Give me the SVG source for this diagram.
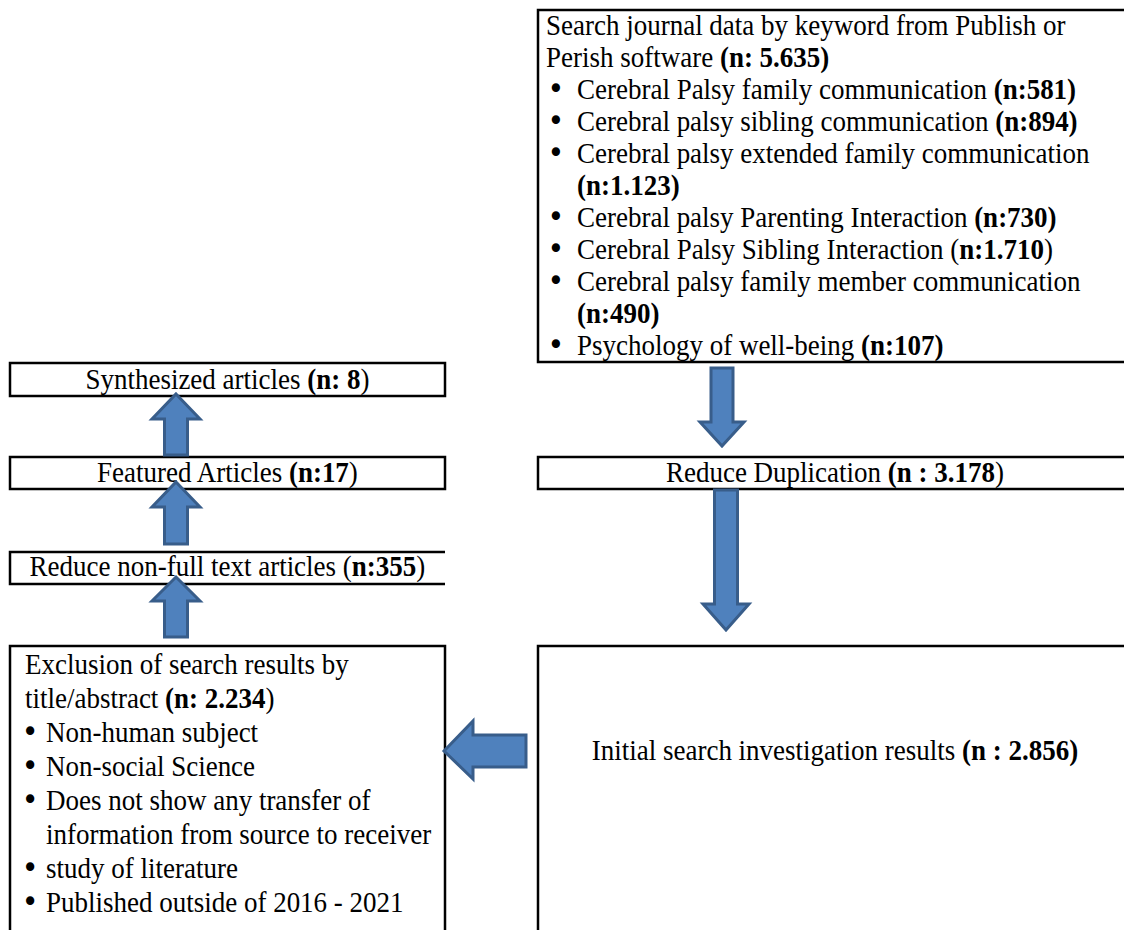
<svg xmlns="http://www.w3.org/2000/svg" width="1124" height="930" viewBox="0 0 1124 930">
<style>
.box{fill:none;stroke:#000;stroke-width:2.5}
.t{font-family:"Liberation Serif","Times New Roman",serif;font-size:28.5px;fill:#000}
.bu{font-family:"DejaVu Sans","Liberation Sans",sans-serif;font-size:30px;fill:#000;text-anchor:middle}
.m{text-anchor:middle}
.b{font-weight:bold}
.arr{fill:#4F81BD;stroke:#385D8A;stroke-width:3;stroke-linejoin:miter}
</style>
<rect width="1124" height="930" fill="#fff"/>
<g id="search">
<rect class="box" x="538" y="10" width="600" height="352"/>
<g transform="scale(0.947,1)">
<text class="t" x="576.6" y="35">Search journal data by keyword from Publish or</text>
<text class="t" x="576.6" y="67">Perish software <tspan class="b">(n: 5.635)</tspan></text>
<text class="bu" x="587.1" y="99">•</text>
<text class="t" x="609.3" y="99">Cerebral Palsy family communication <tspan class="b">(n:581)</tspan></text>
<text class="bu" x="587.1" y="131">•</text>
<text class="t" x="609.3" y="131">Cerebral palsy sibling communication <tspan class="b">(n:894)</tspan></text>
<text class="bu" x="587.1" y="163">•</text>
<text class="t" x="609.3" y="163">Cerebral palsy extended family communication</text>
<text class="t b" x="609.3" y="195">(n:1.123)</text>
<text class="bu" x="587.1" y="227">•</text>
<text class="t" x="609.3" y="227">Cerebral palsy Parenting Interaction <tspan class="b">(n:730)</tspan></text>
<text class="bu" x="587.1" y="259">•</text>
<text class="t" x="609.3" y="259">Cerebral Palsy Sibling Interaction (<tspan class="b">n:1.710</tspan>)</text>
<text class="bu" x="587.1" y="291">•</text>
<text class="t" x="609.3" y="291">Cerebral palsy family member communication</text>
<text class="t b" x="609.3" y="323">(n:490)</text>
<text class="bu" x="587.1" y="355">•</text>
<text class="t" x="609.3" y="355">Psychology of well-being <tspan class="b">(n:107)</tspan></text>
</g>
</g>
<g id="synthesized">
<rect class="box" x="10" y="363" width="435" height="33"/>
<text class="t m" transform="scale(0.947,1)" x="240.2" y="389">Synthesized articles <tspan class="b">(n: 8</tspan>)</text>
</g>
<g id="featured">
<rect class="box" x="10" y="457" width="435" height="32"/>
<text class="t m" transform="scale(0.947,1)" x="240.2" y="482">Featured Articles <tspan class="b">(n:17</tspan>)</text>
</g>
<g id="duplication">
<rect class="box" x="538" y="457" width="600" height="32"/>
<text class="t m" transform="scale(0.947,1)" x="881.7" y="482">Reduce Duplication <tspan class="b">(n : 3.178</tspan>)</text>
</g>
<g id="nonfull">
<path class="box" d="M445,552 H10 V584 H445"/>
<text class="t m" transform="scale(0.947,1)" x="240.2" y="576">Reduce non-full text articles (<tspan class="b">n:355</tspan>)</text>
</g>
<g id="exclusion">
<rect class="box" x="10" y="646" width="435" height="300"/>
<g transform="scale(0.947,1)">
<text class="t" x="26.4" y="674">Exclusion of search results by</text>
<text class="t" x="26.4" y="708">title/abstract <tspan class="b">(n: 2.234</tspan>)</text>
<text class="bu" x="31.7" y="742">•</text>
<text class="t" x="48.6" y="742">Non-human subject</text>
<text class="bu" x="31.7" y="776">•</text>
<text class="t" x="48.6" y="776">Non-social Science</text>
<text class="bu" x="31.7" y="810">•</text>
<text class="t" x="48.6" y="810">Does not show any transfer of</text>
<text class="t" x="48.6" y="844">information from source to receiver</text>
<text class="bu" x="31.7" y="878">•</text>
<text class="t" x="48.6" y="878">study of literature</text>
<text class="bu" x="31.7" y="912">•</text>
<text class="t" x="48.6" y="912">Published outside of 2016 - 2021</text>
</g>
</g>
<g id="initial">
<rect class="box" x="538" y="646" width="600" height="300"/>
<text class="t m" transform="scale(0.947,1)" x="881.7" y="760">Initial search investigation results <tspan class="b">(n : 2.856)</tspan></text>
</g>
<g id="connectors">
<polygon class="arr" points="176,394 200,419 187.5,419 187.5,455 164.5,455 164.5,419 152,419"/>
<polygon class="arr" points="176,482 200,507 187.5,507 187.5,544 164.5,544 164.5,507 152,507"/>
<polygon class="arr" points="176,577 200,601 187.5,601 187.5,637 164.5,637 164.5,601 152,601"/>
<polygon class="arr" points="711,368 733,368 733,422 744,422 722,446 700,422 711,422"/>
<polygon class="arr" points="714.5,490 737.5,490 737.5,604 749,604 726,630 703,604 714.5,604"/>
<polygon class="arr" points="444,751 473,721 473,735 526,735 526,767 473,767 473,779"/>
</g>
</svg>
